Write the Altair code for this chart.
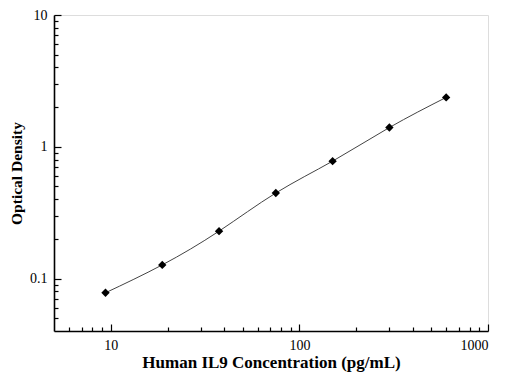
import altair as alt
import pandas as pd

conc = [9.375, 18.75, 37.5, 75, 150, 300, 600]
od = [0.078, 0.127, 0.229, 0.446, 0.778, 1.40, 2.37]

x_major = [10, 100, 1000]
x_minor = [6, 7, 8, 9, 20, 30, 40, 50, 60, 70, 80, 90, 200, 300, 400, 500, 600, 700, 800, 900]
y_major = [0.1, 1, 10]
y_minor = [0.05, 0.06, 0.07, 0.08, 0.09, 0.2, 0.3, 0.4, 0.5, 0.6, 0.7, 0.8, 0.9,
           2, 3, 4, 5, 6, 7, 8, 9]

df = pd.DataFrame({"conc": conc, "od": od})

FONT = "Liberation Serif"
xs = alt.Scale(type="log", domain=[5, 1000], nice=False)
ys = alt.Scale(type="log", domain=[0.04, 10], nice=False)

base = alt.Chart(df)

line = base.mark_line(interpolate="natural", color="#444444", strokeWidth=1).encode(
    x=alt.X("conc:Q", scale=xs,
            axis=alt.Axis(values=x_major, format="~g", ticks=False, grid=False,
                          title="Human IL9 Concentration (pg/mL)",
                          domainColor="black", domainWidth=1.6,
                          labelFont=FONT, labelFontSize=14, labelColor="black",
                          labelPadding=7, titleFont=FONT, titleFontSize=17,
                          titleFontWeight="bold", titleColor="black", titlePadding=2)),
    y=alt.Y("od:Q", scale=ys,
            axis=alt.Axis(values=y_major, format="~g", ticks=False, grid=False,
                          title="Optical Density",
                          domainColor="black", domainWidth=1.6,
                          labelFont=FONT, labelFontSize=14, labelColor="black",
                          labelPadding=7, titleFont=FONT, titleFontSize=15.5,
                          titleFontWeight="bold", titleColor="black", titlePadding=5)),
)

points = base.mark_point(shape="diamond", filled=True, color="black", size=70, opacity=1).encode(
    x=alt.X("conc:Q", scale=xs, axis=None),
    y=alt.Y("od:Q", scale=ys, axis=None),
)


def tick_layer(xvals, yvals, size):
    return base.mark_point(opacity=0).encode(
        x=alt.X("conc:Q", scale=xs,
                axis=alt.Axis(values=xvals, orient="bottom", labels=False, domain=False,
                              grid=False, tickSize=size, offset=-size, tickColor="black",
                              tickWidth=1.2, title=None)),
        y=alt.Y("od:Q", scale=ys,
                axis=alt.Axis(values=yvals, orient="left", labels=False, domain=False,
                              grid=False, tickSize=size, offset=-size, tickColor="black",
                              tickWidth=1.2, title=None)),
    )


chart = alt.layer(
    line, points, tick_layer(x_major, y_major, 7), tick_layer(x_minor, y_minor, 4)
).resolve_axis(x="independent", y="independent").properties(
    width=434, height=316,
    autosize=alt.AutoSizeParams(type="none"),
    padding={"left": 46, "top": 7, "right": 17, "bottom": 55},
).configure_view(stroke=None).configure(background="white")

chart.save("out.html", embed_options={"renderer": "svg", "actions": False})
